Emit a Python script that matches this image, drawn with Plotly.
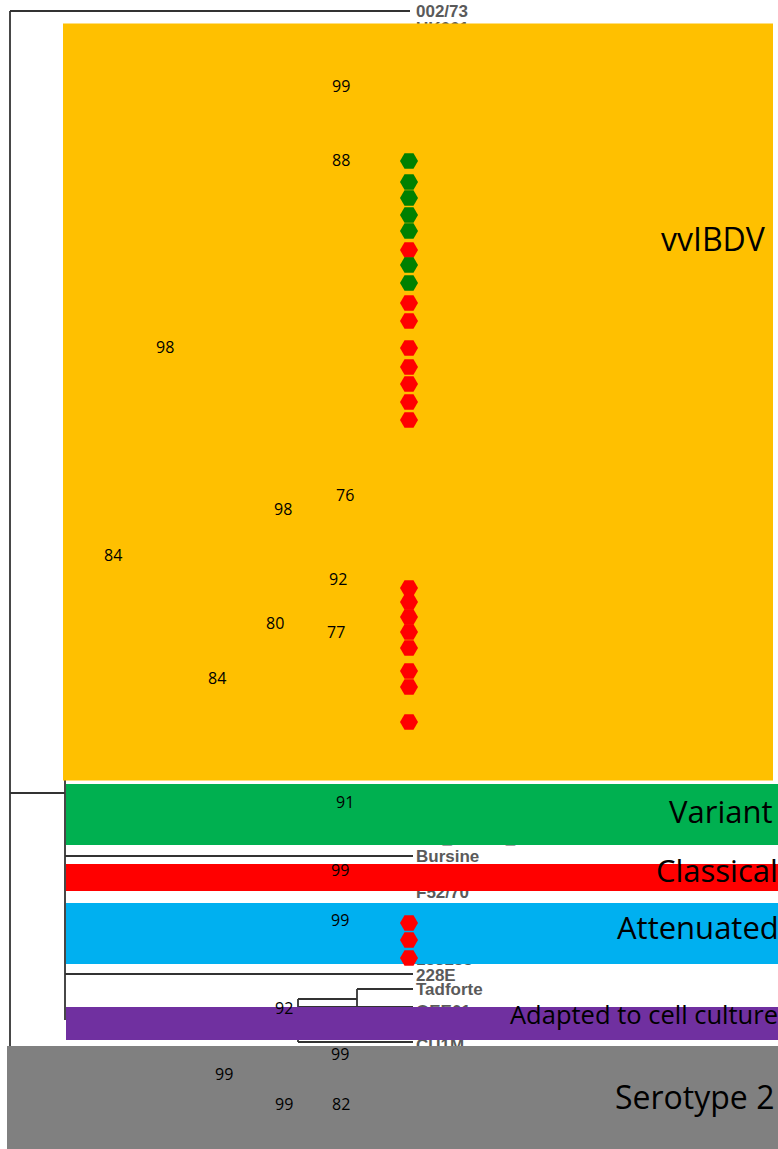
import plotly.graph_objects as go

W, H = 778, 1149

# ---- tree branches (x0, y0, x1, y1) in picture units ----
branch_x0 = [10, 10, 10, 65, 65, 65, 357, 357, 298, 298, 298, 298]
branch_y0 = [11, 11, 793, 780, 856, 974, 989, 989, 999, 999, 1042, 1007]
branch_x1 = [410, 10, 65, 65, 413, 413, 357, 413, 298, 357, 413, 413]
branch_y1 = [11, 1046, 793, 1020, 856, 974, 1007, 989, 1042, 999, 1042, 1007]

# ---- tip labels ----
tip_labels = ["002/73", "UK661", "Var_E/2005_USA", "Bursine", "F52/70",
              "GT101/IBD", "183185", "228E", "Tadforte", "OEE01", "CU1M"]
tip_y = [13, 30, 840, 858, 894, 911, 961, 977, 991, 1013, 1047]

# ---- clade boxes ----
clade_names = ["vvIBDV", "Variant", "Classical", "Attenuated",
               "Adapted to cell culture", "Serotype 2"]
clade_x0 = [63, 66, 66, 66, 66, 7]
clade_x1 = [773, 778, 778, 778, 778, 778]
clade_y0 = [23.5, 784, 864, 903, 1007, 1046]
clade_y1 = [780.5, 845, 891, 964, 1040, 1149]
clade_colors = ["#FFC000", "#00B050", "#FF0000", "#00B0F0", "#7030A0", "#808080"]
clade_label_x = [768, 775, 780, 781, 780, 776]
clade_label_y = [238, 811, 870, 927, 1014, 1096]
clade_label_size = [32, 31, 31, 31, 25.5, 32]

# ---- hexagon markers ----
hex_y = [161, 182, 198, 215, 231, 250, 265, 283, 303, 321, 348, 367, 384, 402, 420,
         588, 602, 617, 632, 648, 671, 687, 722, 923, 940, 958]
hex_c = ["g", "g", "g", "g", "g", "r", "g", "g", "r", "r", "r", "r", "r", "r", "r",
         "r", "r", "r", "r", "r", "r", "r", "r", "r", "r", "r"]

# ---- bootstrap values ----
boot_vals = ["99", "88", "98", "76", "98", "84", "92", "80", "77", "84",
             "91", "99", "99", "92", "99", "99", "99", "82"]
boot_x = [341, 341, 165, 345, 283, 113, 338, 275, 336, 217,
          345, 340, 340, 284, 340, 224, 284, 341]
boot_y = [86, 160, 347, 495, 509, 555, 579, 623, 632, 678,
          802, 870, 920, 1008, 1054, 1074, 1104, 1104]

fig = go.Figure()

# tree lines
lx, ly = [], []
for a, b, c, d in zip(branch_x0, branch_y0, branch_x1, branch_y1):
    lx += [a, c, None]
    ly += [b, d, None]
fig.add_trace(go.Scatter(x=lx, y=ly, mode="lines",
                         line=dict(color="#333333", width=1.8),
                         hoverinfo="skip", showlegend=False))

# tip labels
fig.add_trace(go.Scatter(x=[416] * len(tip_labels), y=tip_y, mode="text",
                         text=["<b>%s</b>" % t for t in tip_labels], textposition="middle right",
                         textfont=dict(family="Liberation Sans", size=17, color="#5a5a5a"),
                         hoverinfo="skip", showlegend=False))

# clade rectangles
for n, a, b, c, d, col in zip(clade_names, clade_x0, clade_x1, clade_y0, clade_y1, clade_colors):
    fig.add_trace(go.Scatter(x=[a, b, b, a, a], y=[c, c, d, d, c], mode="lines",
                             fill="toself", fillcolor=col, line=dict(width=0),
                             hoverinfo="skip", showlegend=False, name=n))

# hexagons
cmap = {"g": "#008000", "r": "#FF0000"}
fig.add_trace(go.Scatter(x=[409] * len(hex_y), y=hex_y, mode="markers",
                         marker=dict(symbol="hexagon2", size=18,
                                     color=[cmap[c] for c in hex_c], line=dict(width=0)),
                         hoverinfo="skip", showlegend=False))

# bootstrap numbers
for v, x, y in zip(boot_vals, boot_x, boot_y):
    fig.add_annotation(x=x, y=y, text=v, showarrow=False, xanchor="center", yanchor="middle",
                       font=dict(family="Open Sans", size=16, color="black"))

# clade labels (anchored inside the range, shifted to the picture's right edge)
for n, x, y, s in zip(clade_names, clade_label_x, clade_label_y, clade_label_size):
    fig.add_annotation(x=min(x, W - 1), xshift=max(0, x - (W - 1)), y=y, text=n,
                       showarrow=False, xanchor="right", yanchor="middle",
                       font=dict(family="Open Sans", size=s, color="black"))

fig.update_layout(
    width=W, height=H, margin=dict(l=0, r=0, t=0, b=0),
    paper_bgcolor="white", plot_bgcolor="white",
    xaxis=dict(range=[0, W], visible=False, fixedrange=True),
    yaxis=dict(range=[H, 0], visible=False, fixedrange=True),
)

fig.write_html("out.html", config={"displayModeBar": False},
               post_script="document.body.style.margin='0';document.body.style.overflow='hidden';")
